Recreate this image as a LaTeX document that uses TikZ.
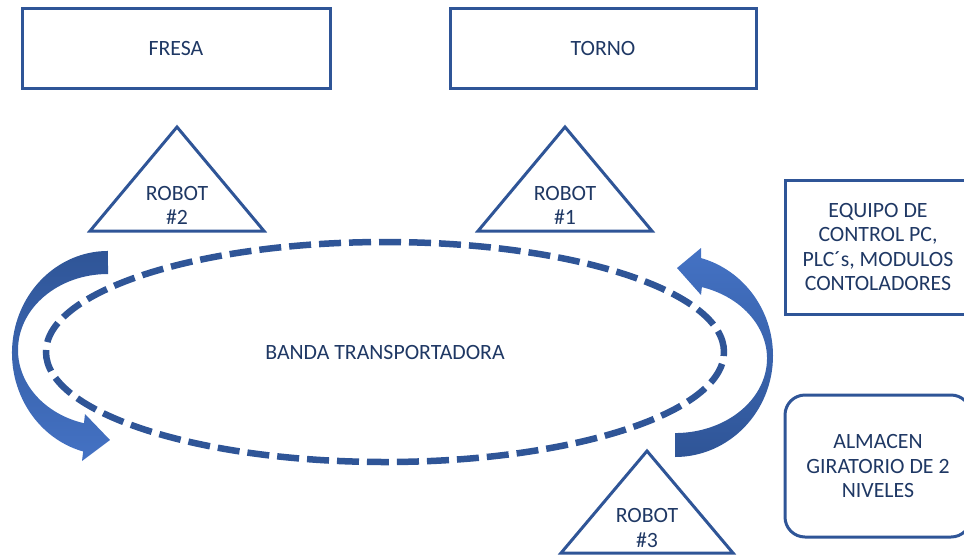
\documentclass[tikz,border=0pt]{standalone}
\usepackage{fontspec}
\setmainfont{Carlito}
\usepackage{tikz}
\usetikzlibrary{shapes.geometric}
\definecolor{linea}{HTML}{2F5597}
\definecolor{texto}{HTML}{1F3864}
\definecolor{flecha_osc}{HTML}{2F5597}
\definecolor{flecha_cla}{HTML}{4472C4}
\tikzset{
  txt/.style = {align=center, text=texto, inner sep=0pt,
    font=\fontsize{21.8}{24.5}\selectfont},
  caja_n/.style = {txt, rectangle, draw=linea, line width=3pt},% caja normal
  caja_r/.style = {caja_n, rounded corners=20pt},% caja redondeada
  tri/.style = {draw=linea, line width=3pt, line join=miter},% robot
  banda/.style = {txt, ellipse, draw=linea, line width=6.5pt,
    dash pattern=on 22pt off 8pt}% banda transportadora
}
\begin{document}
\begin{tikzpicture}[x=1pt,y=-1pt]
\useasboundingbox (0,0) rectangle (964,555);
% maquinas
\node [caja_n, minimum width=308pt, minimum height=80pt] (fresa) at (176,48) {FRESA};
\node [caja_n, minimum width=306pt, minimum height=80pt] (torno) at (603,48) {TORNO};
\node [caja_n, minimum width=186pt, minimum height=134pt] (control) at (878,247)
  {EQUIPO DE\\CONTROL PC,\\PLC´s, MODULOS\\CONTOLADORES};
\node [caja_r, minimum width=186pt, minimum height=142pt] (almacen) at (878,466)
  {ALMACEN\\GIRATORIO DE 2\\NIVELES};
% banda
\node [banda, minimum width=678pt, minimum height=220pt] (banda) at (385,352)
  {BANDA TRANSPORTADORA};
% robots
\draw [tri] (177,127) -- (264,231) -- (90,231) -- cycle;
\node [txt] (robot2) at (177,205.5) {ROBOT\\\#2};
\draw [tri] (565,127) -- (652,231) -- (478,231) -- cycle;
\node [txt] (robot1) at (565,205.5) {ROBOT\\\#1};
\draw [tri] (647,451) -- (733,553) -- (561,553) -- cycle;
\node [txt] (robot3) at (647,528) {ROBOT\\\#3};
% flechas curvas
\shade [top color=flecha_osc, bottom color=flecha_cla]
  (108,274) arc [start angle=270, end angle=105.5, x radius=90, y radius=76]
  -- (85,414) -- (110,440) -- (82,461) -- (83.15,451.5)
  arc [start angle=105, end angle=270, x radius=96, y radius=102] -- cycle;
\shade [top color=flecha_cla, bottom color=flecha_osc]
  (675,457) arc [start angle=90, end angle=-74.6, x radius=98, y radius=101.3]
  -- (701,248) -- (677,268) -- (701,295) -- (701.9,287.1)
  arc [start angle=-73, end angle=90, x radius=92, y radius=74.6] -- cycle;
\end{tikzpicture}
\end{document}
